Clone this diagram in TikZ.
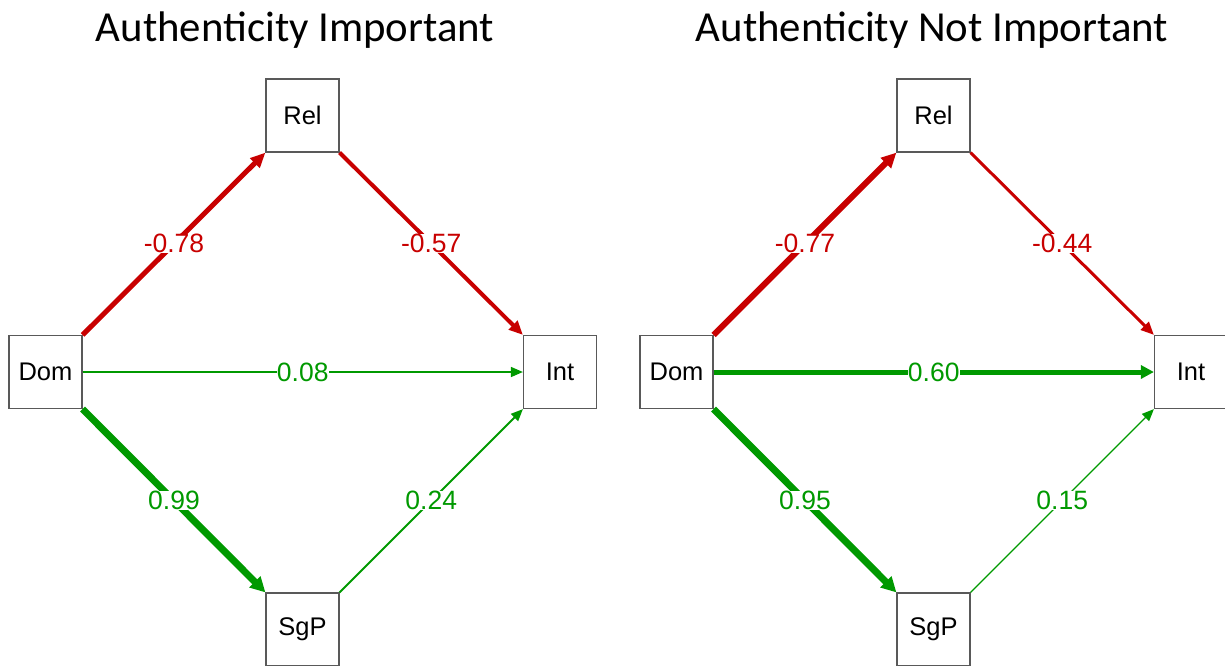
\documentclass[tikz,border=0pt]{standalone}
\usepackage{fontspec}
\setmainfont{Liberation Sans}
\newfontfamily\titlefont{Carlito}
\usetikzlibrary{arrows.meta}
\definecolor{pred}{RGB}{200,0,0}
\definecolor{pgreen}{RGB}{0,153,0}
\begin{document}
\begin{tikzpicture}[x=1pt,y=-1pt,
  box/.style={draw=black!65,line width=1.2pt,fill=white,minimum size=73pt,inner sep=0pt,font=\fontsize{25.5}{25.5}\selectfont},
  lab/.style={fill=white,inner sep=0.3pt,font=\fontsize{26.5}{26.5}\selectfont},
  negedge/.style={draw=pred,text=pred},
  posedge/.style={draw=pgreen,text=pgreen},
  ttl/.style={font=\titlefont\fontsize{42.8}{42.8}\selectfont,inner sep=0pt}]
\useasboundingbox (0,0) rectangle (1225,665);
\clip (0,0) rectangle (1225,665);
% titles
\node[ttl] (t1) at (295,30) {Authenticity Important};
\node[ttl] (t2) at (932,30) {Authenticity Not Important};
% left panel
\node[box] (d1) at (45.5,372) {Dom};
\node[box] (r1) at (302.5,115.5) {Rel};
\node[box] (i1) at (560,372) {Int};
\node[box] (s1) at (302.5,629.5) {SgP};
\draw[negedge,line width=5pt,-{Triangle[length=15pt,width=13pt]}] (d1.north east) -- node[lab,text=pred]{-0.78} (r1.south west);
\draw[negedge,line width=4pt,-{Triangle[length=14pt,width=12pt]}] (r1.south east) -- node[lab,text=pred]{-0.57} (i1.north west);
\draw[posedge,line width=1.5pt,-{Triangle[length=12pt,width=10pt]}] (d1.east) -- node[lab,text=pgreen]{0.08} (i1.west);
\draw[posedge,line width=7pt,-{Triangle[length=15pt,width=15pt]}] (d1.south east) -- node[lab,text=pgreen]{0.99} (s1.north west);
\draw[posedge,line width=1.8pt,-{Triangle[length=12pt,width=10pt]}] (s1.north east) -- node[lab,text=pgreen]{0.24} (i1.south west);
% right panel
\node[box] (d2) at (676.5,372) {Dom};
\node[box] (r2) at (933.5,115.5) {Rel};
\node[box] (i2) at (1191,372) {Int};
\node[box] (s2) at (933.5,629.5) {SgP};
\draw[negedge,line width=6pt,-{Triangle[length=15pt,width=14pt]}] (d2.north east) -- node[lab,text=pred]{-0.77} (r2.south west);
\draw[negedge,line width=3pt,-{Triangle[length=13pt,width=11pt]}] (r2.south east) -- node[lab,text=pred]{-0.44} (i2.north west);
\draw[posedge,line width=5pt,-{Triangle[length=13pt,width=13pt]}] (d2.east) -- node[lab,text=pgreen]{0.60} (i2.west);
\draw[posedge,line width=7pt,-{Triangle[length=15pt,width=15pt]}] (d2.south east) -- node[lab,text=pgreen]{0.95} (s2.north west);
\draw[posedge,line width=1.3pt,-{Triangle[length=12pt,width=10pt]}] (s2.north east) -- node[lab,text=pgreen]{0.15} (i2.south west);
\end{tikzpicture}
\end{document}
